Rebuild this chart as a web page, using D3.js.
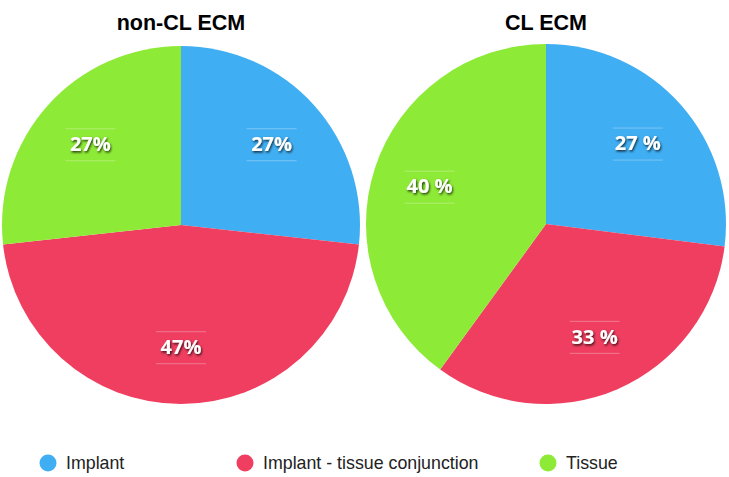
<!DOCTYPE html>
<html>
<head>
<meta charset="utf-8">
<script src="https://cdn.jsdelivr.net/npm/d3@7"></script>
<style>
  body { margin: 0; background: #fff; }
  svg { display: block; }
</style>
</head>
<body>
<svg id="chart" width="729" height="477"></svg>
<script>
const categories = ["Implant", "Implant - tissue conjunction", "Tissue"];
const colors = ["#40aef2", "#ef3e5f", "#8dea36"];
const charts = ["non-CL ECM", "CL ECM"];
const nonClValues = [27, 47, 27];
const clValues = [27, 33, 40];
const nonClLabels = ["27%", "47%", "27%"];
const clLabels = ["27 %", "33 %", "40 %"];

const svg = d3.select("#chart");
const defs = svg.append("defs");
const f = defs.append("filter").attr("id", "shadow").attr("x", "-20%").attr("y", "-30%").attr("width", "140%").attr("height", "160%");
f.append("feDropShadow").attr("dx", 1).attr("dy", 1.5).attr("stdDeviation", 1.2).attr("flood-color", "#000").attr("flood-opacity", 0.75);

const pies = [
  { title: charts[0], values: nonClValues, labels: nonClLabels, cx: 181, cy: 225, r: 179 },
  { title: charts[1], values: clValues, labels: clLabels, cx: 546, cy: 224, r: 180 }
];

const pie = d3.pie().sort(null).value(d => d);

pies.forEach(p => {
  const g = svg.append("g").attr("transform", `translate(${p.cx},${p.cy})`);
  const arc = d3.arc().innerRadius(0).outerRadius(p.r);
  const labelArc = d3.arc().innerRadius(p.r * 0.68).outerRadius(p.r * 0.68);
  const arcs = pie(p.values);
  g.selectAll("path.slice").data(arcs).enter().append("path")
    .attr("class", "slice")
    .attr("d", arc)
    .attr("fill", (d, i) => colors[i]);

  const lg = g.selectAll("g.lbl").data(arcs).enter().append("g")
    .attr("class", "lbl")
    .attr("transform", d => { const c = labelArc.centroid(d); return `translate(${c[0]},${c[1]})`; });
  lg.append("line").attr("x1", -25).attr("x2", 25).attr("y1", -15).attr("y2", -15)
    .attr("stroke", "#fff").attr("stroke-opacity", 0.3).attr("stroke-width", 1);
  lg.append("line").attr("x1", -25).attr("x2", 25).attr("y1", 17).attr("y2", 17)
    .attr("stroke", "#fff").attr("stroke-opacity", 0.3).attr("stroke-width", 1);
  lg.append("text")
    .attr("text-anchor", "middle")
    .attr("dy", "0.36em")
    .attr("font-family", "'Open Sans', sans-serif")
    .attr("font-weight", "bold")
    .attr("font-size", 20)
    .attr("fill", "#fff")
    .attr("filter", "url(#shadow)")
    .text((d, i) => p.labels[i]);

  svg.append("text")
    .attr("x", p.cx)
    .attr("y", 30)
    .attr("text-anchor", "middle")
    .attr("font-family", "'Liberation Sans', Arial, sans-serif")
    .attr("font-weight", "bold")
    .attr("font-size", 21.5)
    .attr("fill", "#000")
    .text(p.title);
});

const legendX = [48, 245, 548];
const lg = svg.append("g");
categories.forEach((c, i) => {
  lg.append("circle").attr("cx", legendX[i]).attr("cy", 463).attr("r", 8.5).attr("fill", colors[i]);
  lg.append("text").attr("x", legendX[i] + 18).attr("y", 463).attr("dy", "0.35em")
    .attr("font-family", "'Liberation Sans', Arial, sans-serif")
    .attr("font-size", 17.8)
    .attr("fill", "#222")
    .text(c);
});
</script>
</body>
</html>
